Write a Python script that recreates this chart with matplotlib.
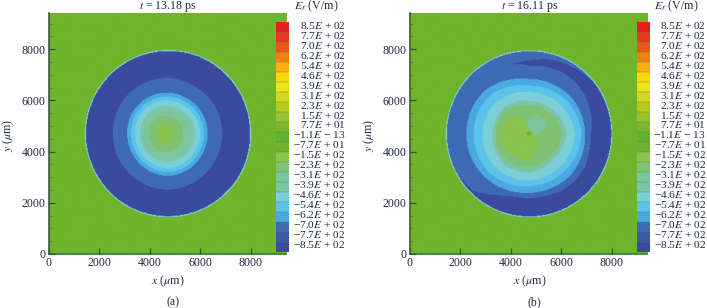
import numpy as np
import matplotlib
matplotlib.use("Agg")
import matplotlib.pyplot as plt
from matplotlib.colors import ListedColormap, BoundaryNorm

plt.rcParams["font.family"] = ["Liberation Serif", "DejaVu Serif"]
plt.rcParams["mathtext.fontset"] = "stix"

W, H = 707, 308

level_labels = ["8.5$E$ + 02", "7.7$E$ + 02", "7.0$E$ + 02", "6.2$E$ + 02", "5.4$E$ + 02",
                "4.6$E$ + 02", "3.9$E$ + 02", "3.1$E$ + 02", "2.3$E$ + 02", "1.5$E$ + 02",
                "7.7$E$ + 01", "\u22121.1$E$ \u2212 13", "\u22127.7$E$ + 01", "\u22121.5$E$ + 02",
                "\u22122.3$E$ + 02", "\u22123.1$E$ + 02", "\u22123.9$E$ + 02", "\u22124.6$E$ + 02",
                "\u22125.4$E$ + 02", "\u22126.2$E$ + 02", "\u22127.0$E$ + 02", "\u22127.7$E$ + 02",
                "\u22128.5$E$ + 02"]
level_colors = ["#e61e1f", "#e8381f", "#ec561b", "#f07f12", "#fbae12", "#fcd905", "#eee21a",
                "#d4d81f", "#b7cb1d", "#9cc22b", "#7bb82d", "#62b22f", "#6fb42c", "#8ac44c",
                "#80c172", "#7dc59c", "#7cc6a8", "#7bcfd8", "#5cc3ea", "#4aa9e0", "#3f6bb3",
                "#3c58a8", "#3c4a9e"]

# level index: position in level_labels (0 = top of the colour bar)
BG, EDGE = 12, 17
L_DARK, L_MED, L_CYAN, L_SKY, L_PALE, L_TEAL, L_SEA, L_GREEN, L_CORE, L_DOT = 22, 20, 19, 18, 17, 16, 15, 14, 13, 12

center_um = 4700
grid_um = 9400

# Every table: radius (um) of a band's outer boundary, for directions evenly spaced
# counter-clockwise from +x.
a_outer = [3250, 3250, 3250, 3220, 3230, 3240, 3250, 3240, 3240, 3230, 3240, 3260]
a_bands = [
    (L_MED,   [2150, 2140, 2130, 2170, 2190, 2200, 2180, 2190, 2190, 2200, 2170, 2150]),
    (L_CYAN,  [1570, 1570, 1570, 1600, 1620, 1630, 1620, 1620, 1640, 1660, 1620, 1580]),
    (L_SKY,   [1420, 1420, 1420, 1450, 1470, 1480, 1470, 1470, 1490, 1510, 1470, 1430]),
    (L_PALE,  [1270, 1270, 1260, 1290, 1320, 1330, 1310, 1320, 1340, 1350, 1310, 1280]),
    (L_TEAL,  [1060, 1060, 1050, 1080, 1100, 1110, 1090, 1100, 1110, 1120, 1090, 1060]),
    (L_SEA,   [ 920,  930,  930,  960,  990, 1010,  990,  990,  990,  990,  960,  920]),
    (L_GREEN, [ 600,  620,  650,  680,  720,  760,  770,  760,  750,  700,  650,  600]),
    (L_CORE,  [ 200,  250,  300,  330,  370,  430,  470,  460,  430,  380,  270,  200]),
]

# Panel (b)
b_outer = [3260, 3260, 3240, 3210, 3230, 3240, 3250, 3250, 3240, 3240, 3250, 3260]
# dark crescent, directions every 15 degrees
b_crescent_in = [2450, 2550, 2650, 2715, 2735, 2700, 2660, 2800, 2800, 2800, 2800, 2800,
                 3240, 3240, 3240, 3150, 2760, 2540, 2520, 2530, 2570, 2600, 2560, 2480]
b_crescent_out = [3300, 3300, 3300, 3200, 3100, 3000, 2850, 2800, 2800, 2800, 2800, 2800,
                  3240, 3240, 3240, 3300, 3300, 3300, 3300, 3300, 3300, 3300, 3300, 3300]
b_bands = [
    (L_CYAN,  [2220, 2200, 2190, 2140, 2130, 2260, 2420, 2470, 2480, 2480, 2440, 2380, 2320, 2310, 2320, 2260]),
    (L_SKY,   [2080, 2010, 1960, 1900, 1870, 1990, 2140, 2180, 2190, 2200, 2190, 2120, 2060, 2040, 2040, 2060]),
    (L_PALE,  [1820, 1740, 1680, 1630, 1610, 1690, 1780, 1830, 1850, 1870, 1870, 1850, 1830, 1800, 1790, 1800]),
    (L_TEAL,  [1490, 1390, 1310, 1280, 1280, 1350, 1420, 1440, 1450, 1500, 1550, 1550, 1530, 1460, 1390, 1430]),
    (L_SEA,   [1400, 1280, 1220, 1380, 1420, 1480, 1460, 1320]),
    (L_GREEN, [1280, 1150, 1100, 1250, 1330, 1350, 1330, 1200]),
    (L_SEA,   [ 400,  870,  800,  620,    0,    0,    0,    0,    0,    0,    0,    0]),
    (L_CORE,  [ 130,  150,  100,  150,  780,  990, 1120, 1060, 1020, 1040,  580,  260]),
    (L_DOT,   [  90,   90,   90,   90]),
]


def field(outer, bands, crescent_in=None, crescent_out=None, base=L_DARK):
    axis = np.linspace(0, grid_um, 320)
    x, y = np.meshgrid(axis, axis)
    r = np.hypot(x - center_um, y - center_um)
    t = np.degrees(np.arctan2(y - center_um, x - center_um)) % 360

    def R(tbl):
        dirs = np.linspace(0, 360, len(tbl) + 1)
        return np.interp(t, dirs, list(tbl) + [tbl[0]])

    z = np.full(x.shape, BG, dtype=float)
    z[r < R(outer) + 45] = EDGE
    z[r < R(outer)] = base
    if crescent_in is not None:
        z[(r >= R(crescent_in)) & (r < np.minimum(R(crescent_out), R(outer)))] = L_DARK
    for lev, tbl in bands:
        z[r < R(tbl)] = lev
    return z


cmap = ListedColormap(level_colors)
norm = BoundaryNorm(np.arange(len(level_colors) + 1) - 0.5, len(level_colors))


def box(l, t, r, b):
    return [l / W, 1 - b / H, (r - l) / W, (b - t) / H]


def panel(x0, xr, z, title, title_x, ylab_x, cb_l, cb_r, er_x, lab_r, tag, tag_x):
    ax = fig.add_axes(box(x0, 13.3, xr, 254))
    ax.imshow(z, origin="lower", extent=[0, grid_um, 0, grid_um], cmap=cmap, norm=norm,
              interpolation="hanning", interpolation_stage="rgba", aspect="auto", zorder=1)
    ax.set_xlim(0, grid_um)
    ax.set_ylim(0, grid_um)
    for s in ("top", "right"):
        ax.spines[s].set_visible(False)
    ax.spines["left"].set_color("#3f5a3a")
    ax.spines["left"].set_linewidth(1.2)
    ax.spines["bottom"].set_color("#2f7d33")
    ax.spines["bottom"].set_linewidth(1.2)
    ax.set_xticks([0, 2000, 4000, 6000, 8000])
    ax.set_yticks([0, 2000, 4000, 6000, 8000])
    ax.set_xticks(np.arange(0, 9001, 500), minor=True)
    ax.set_yticks(np.arange(0, 9001, 500), minor=True)
    ax.tick_params(which="major", direction="in", length=4.5, width=0.9, color="#2c5a30",
                   labelsize=8.6, labelcolor="#1f2a44", pad=2.5)
    ax.tick_params(which="minor", direction="in", length=1.8, width=0.7, color="#3d9440")
    ax.set_axisbelow(False)

    fig.text(title_x / W, 1 - 9.3 / H, "$t$ = " + title + " ps", ha="center", va="baseline",
             fontsize=8.6, color="#1f2a44")
    fig.text(er_x / W, 1 - 9.3 / H, "$E_r$ (V/m)", ha="center", va="baseline", fontsize=8.6,
             color="#1f2a44")
    fig.text(title_x / W, 1 - 281 / H, "$x$ ($\\mu$m)", ha="center", va="center", fontsize=8.6,
             color="#1f2a44")
    fig.text(ylab_x / W, 1 - 135 / H, "$y$ ($\\mu$m)", ha="center", va="center", fontsize=8.6,
             rotation=90, color="#1f2a44")
    fig.text(tag_x / W, 1 - 302 / H, tag, ha="center", va="center", fontsize=8.6,
             color="#1f2a44")

    cb = fig.add_axes(box(cb_l, 22.3, cb_r, 252.3))
    n = len(level_colors)
    cb.imshow(np.arange(n).reshape(-1, 1), cmap=cmap, norm=norm, aspect="auto",
              interpolation="nearest", extent=[0, 1, n, 0])
    cb.hlines(np.arange(1, n), 0, 1, color="#2f8a55", lw=0.35, alpha=0.8)
    cb.axis("off")
    for i, lab in enumerate(level_labels):
        fig.text(lab_r / W, 1 - (29 + i * 9.95) / H, lab, ha="right", va="baseline",
                 fontsize=8.2, color="#1f2a44")


fig = plt.figure(figsize=(W / 100, H / 100), dpi=100)
panel(48.7, 286, field(a_outer, a_bands), "13.18", 168, 8, 276, 288.7, 316, 345.7, "(a)", 173)
panel(409.7, 647.3, field(b_outer, b_bands, b_crescent_in, b_crescent_out, base=L_MED), "16.11",
      529.7, 369, 637.3, 650, 676, 706, "(b)", 534)
fig.savefig("out.png", dpi=100)
